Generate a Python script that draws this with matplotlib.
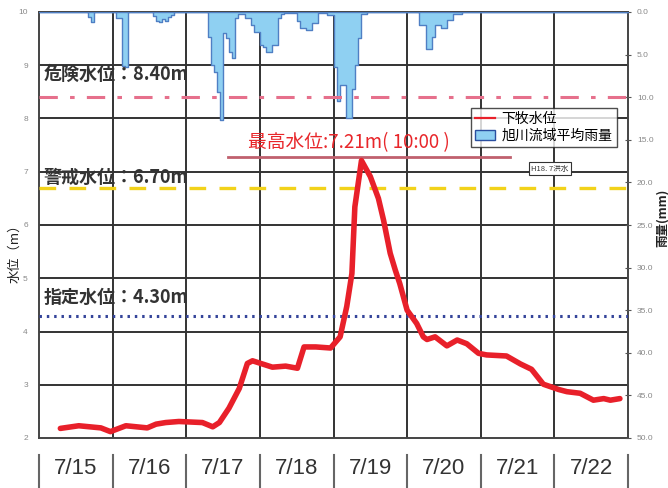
import numpy as np
import matplotlib
matplotlib.use("Agg")
import matplotlib.pyplot as plt
from matplotlib.lines import Line2D
from matplotlib.patches import Patch

plt.rcParams['font.family'] = ['Noto Sans CJK JP', 'DejaVu Sans']

# ---- data ----
day_labels = ["7/15", "7/16", "7/17", "7/18", "7/19", "7/20", "7/21", "7/22"]

# water level (days since 7/15 00:00, metres)
wl_days = [0.29, 0.54, 0.84, 0.97, 1.18, 1.47, 1.59, 1.72, 1.90, 2.22, 2.36, 2.45,
           2.58, 2.72, 2.83, 2.90, 3.17, 3.35, 3.51, 3.60, 3.76, 3.96, 4.09, 4.18,
           4.25, 4.29, 4.38, 4.50, 4.61, 4.68, 4.77, 4.84, 4.90, 5.00, 5.13, 5.22,
           5.27, 5.38, 5.54, 5.68, 5.81, 5.97, 6.08, 6.35, 6.54, 6.69, 6.85, 7.06,
           7.17, 7.35, 7.53, 7.67, 7.76, 7.89]
wl_levels = [2.18, 2.23, 2.19, 2.12, 2.23, 2.19, 2.26, 2.29, 2.31, 2.29, 2.21, 2.29,
             2.56, 2.93, 3.40, 3.45, 3.33, 3.35, 3.31, 3.71, 3.71, 3.69, 3.90, 4.47,
             5.09, 6.34, 7.21, 6.91, 6.50, 6.09, 5.47, 5.15, 4.90, 4.40, 4.15, 3.90,
             3.85, 3.90, 3.73, 3.84, 3.77, 3.59, 3.56, 3.54, 3.39, 3.29, 3.01, 2.91,
             2.87, 2.84, 2.71, 2.74, 2.71, 2.74]

# hourly basin-average rainfall (hour index since 7/15 00:00, mm)
rain_hours = [16, 17, 25, 26, 27, 28, 37, 38, 39, 40, 41, 42, 43,
              55, 56, 57, 58, 59, 60, 61, 62, 63, 64, 65, 66, 67, 68, 69, 70, 71,
              72, 73, 74, 75, 76, 77, 78, 79, 80, 81, 82, 83,
              84, 85, 86, 87, 88, 89, 90, 91, 92, 93, 94, 95,
              96, 97, 98, 99, 100, 101, 102, 103, 104, 105, 106,
              124, 125, 126, 127, 128, 129, 130, 131, 132, 133, 134, 135, 136, 137]
rain_mm = [0.6, 1.2, 0.7, 0.7, 6.3, 6.4, 0.5, 1.0, 1.2, 0.8, 1.0, 0.6, 0.3,
           2.9, 6.2, 7.0, 9.4, 12.7, 2.5, 3.1, 4.7, 5.4, 0.7, 0.2, 0.2, 0.7, 0.7, 1.5, 2.3, 2.3,
           3.9, 4.1, 4.7, 4.7, 3.9, 3.9, 0.7, 0.2, 0.1, 0.1, 0.1, 0.1,
           1.1, 1.9, 1.9, 2.1, 2.1, 1.3, 1.3, 0.1, 0.1, 0.1, 0.3, 0.3,
           6.4, 10.5, 8.6, 8.6, 12.5, 12.5, 9.0, 6.2, 3.1, 0.2, 0.2,
           1.5, 1.5, 4.3, 4.3, 2.9, 1.5, 1.5, 1.9, 1.9, 0.9, 0.9, 0.2, 0.2, 0.2]

ref_levels = [8.40, 6.70, 4.30]
ref_texts = ["危険水位：8.40m", "警戒水位：6.70m", "指定水位：4.30m"]
peak_text = "最高水位:7.21m( 10:00 )"
peak_level = 7.21

# ---- figure ----
fig = plt.figure(figsize=(6.68, 4.88), dpi=100)
ax = fig.add_axes([39/668, 50/488, 589/668, 426/488])
ax.set_xlim(0, 8)
ax.set_ylim(2, 10)

grid_c = '#333333'
for d in range(1, 8):
    ax.axvline(d, color=grid_c, lw=1.4, zorder=1)
for lv in range(3, 10):
    ax.axhline(lv, color=grid_c, lw=1.4, zorder=1)
for sp in ax.spines.values():
    sp.set_color('#444444')
    sp.set_linewidth(1.4)

ax.set_xticks([])
ax.set_yticks(range(2, 11))
ax.set_yticklabels([str(v) for v in range(2, 11)], fontsize=6, color='#888888',
                   family=['Liberation Sans'])
ax.tick_params(axis='y', length=0, pad=8)

# rain on twin axis
ax2 = ax.twinx()
ax2.set_ylim(50, 0)
ax2.set_xlim(0, 8)
full = np.zeros(193)
for h, v in zip(rain_hours, rain_mm):
    full[h] = v
t = np.arange(193) / 24.0
ax2.fill_between(t, 0, full, step='post', facecolor='#8fd0f2', edgecolor='#4f7fc4',
                 lw=1.0, zorder=2)
ax2.set_yticks(np.arange(0, 51, 5))
ax2.set_yticklabels([f"{v:.1f}" for v in np.arange(0, 51, 5)], fontsize=6,
                    color='#888888', family=['Liberation Sans'])
ax2.tick_params(axis='y', direction='inout', length=5, color='#555555', pad=4)
for sp in ax2.spines.values():
    sp.set_visible(False)

# reference lines (drawn on ax2 so they sit above rain)
def lv2r(lv):
    return (10 - lv) / 8 * 50

ax2.axhline(lv2r(ref_levels[0]), color='#e6708c', lw=2.2, dashes=(6, 4, 1.5, 4), zorder=3)
ax2.axhline(lv2r(ref_levels[1]), color='#f2d21a', lw=2.4, dashes=(5, 4), zorder=3)
ax2.axhline(lv2r(ref_levels[2]), color='#34449a', lw=2.2, dashes=(0.8, 1.6), zorder=3)

txt_y = [8.82, 6.90, 4.63]
for s, y in zip(ref_texts, txt_y):
    ax2.text(0.06, lv2r(y), s, fontsize=13, fontweight='bold', color='#333333',
             va='center', ha='left', zorder=5)

# water level line
ax2.plot(wl_days, [lv2r(v) for v in wl_levels], color='#e8202a', lw=4.0,
         solid_joinstyle='round', solid_capstyle='round', zorder=6)

# peak annotation
ax2.plot([2.57, 6.40], [lv2r(7.28), lv2r(7.28)], color='#c0606e', lw=2.0, zorder=4)
ax2.text(2.84, lv2r(7.54), peak_text, fontsize=13.5, color='#e8262a',
         va='center', ha='left', zorder=5)

# small note box
ax2.text(6.94, lv2r(7.06), "H18. 7洪水", fontsize=5.5, color='#333333', ha='center',
         va='center', zorder=5,
         bbox=dict(boxstyle='square,pad=0.35', fc='white', ec='#333333', lw=0.8))

# legend
handles = [Line2D([0], [0], color='#e8202a', lw=1.6),
           Patch(facecolor='#8fd0f2', edgecolor='#2a4fa0', lw=1.0)]
leg = ax2.legend(handles, ["下牧水位", "旭川流域平均雨量"], loc='upper right',
                 bbox_to_anchor=(0.981, 0.775), fontsize=10, frameon=True,
                 fancybox=False, borderpad=0.3, labelspacing=0.2,
                 handlelength=1.4, handletextpad=0.5, borderaxespad=0)
leg.get_frame().set_edgecolor('#222222')
leg.get_frame().set_linewidth(1.0)
leg.set_zorder(7)

# axis titles
fig.text(15/668, 1 - 250/488, "水位（m）", rotation=90, fontsize=9.5, va='center',
         ha='center', color='#222222')
fig.text(662/668, 1 - 218/488, "雨量(mm)", rotation=90, fontsize=9, va='center',
         ha='center', color='#222222', fontweight='bold')

# bottom date labels with separators
x0, w = 39/668, 589/668
for i in range(9):
    xf = x0 + w * i / 8
    fig.add_artist(Line2D([xf, xf], [0, 33/488], color='#666666', lw=1.5))
for i, s in enumerate(day_labels):
    xf = x0 + w * (i + 0.5) / 8
    fig.text(xf, 20/488, s, fontsize=16, ha='center', va='center', color='#333333',
             family=['Liberation Sans'])

fig.savefig('out.png', dpi=100)
